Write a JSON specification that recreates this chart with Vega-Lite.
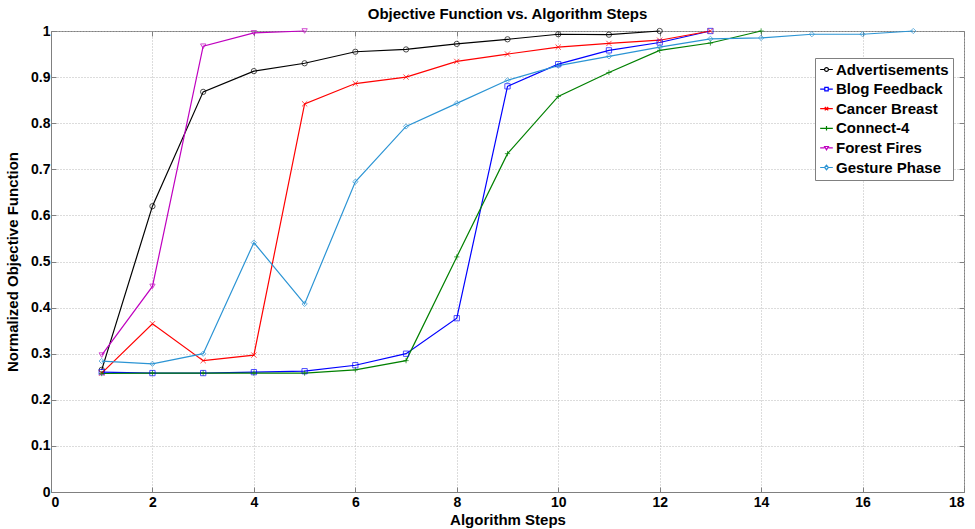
{
  "$schema": "https://vega.github.io/schema/vega-lite/v6.json",
  "width": 913,
  "height": 461,
  "autosize": {"type": "none"},
  "padding": {"left": 51, "top": 31, "right": 11, "bottom": 37},
  "background": "white",
  "title": {"text": "Objective Function vs. Algorithm Steps", "font": "Liberation Sans", "fontSize": 15, "fontWeight": "bold", "color": "black", "offset": 2},
  "config": {
    "view": {"stroke": "#808080", "strokeWidth": 1},
    "font": "Liberation Sans",
    "axis": {"labelFont": "Liberation Sans", "labelFontSize": 14, "labelFontWeight": "bold", "labelColor": "black", "titleFont": "Liberation Sans", "titleFontSize": 15, "titleFontWeight": "bold", "titleColor": "black", "domainColor": "#808080", "tickColor": "#808080", "gridColor": "#b8b8b8", "gridDash": [1, 2], "gridWidth": 1}
  },
  "data": {"values": [
    {"series": "Advertisements", "step": 1, "value": 0.265},
    {"series": "Advertisements", "step": 2, "value": 0.62},
    {"series": "Advertisements", "step": 3, "value": 0.868},
    {"series": "Advertisements", "step": 4, "value": 0.913},
    {"series": "Advertisements", "step": 5, "value": 0.93},
    {"series": "Advertisements", "step": 6, "value": 0.955},
    {"series": "Advertisements", "step": 7, "value": 0.96},
    {"series": "Advertisements", "step": 8, "value": 0.972},
    {"series": "Advertisements", "step": 9, "value": 0.982},
    {"series": "Advertisements", "step": 10, "value": 0.993},
    {"series": "Advertisements", "step": 11, "value": 0.992},
    {"series": "Advertisements", "step": 12, "value": 1.0},
    {"series": "Blog Feedback", "step": 1, "value": 0.26},
    {"series": "Blog Feedback", "step": 2, "value": 0.258},
    {"series": "Blog Feedback", "step": 3, "value": 0.258},
    {"series": "Blog Feedback", "step": 4, "value": 0.26},
    {"series": "Blog Feedback", "step": 5, "value": 0.262},
    {"series": "Blog Feedback", "step": 6, "value": 0.275},
    {"series": "Blog Feedback", "step": 7, "value": 0.3},
    {"series": "Blog Feedback", "step": 8, "value": 0.377},
    {"series": "Blog Feedback", "step": 9, "value": 0.88},
    {"series": "Blog Feedback", "step": 10, "value": 0.928},
    {"series": "Blog Feedback", "step": 11, "value": 0.958},
    {"series": "Blog Feedback", "step": 12, "value": 0.975},
    {"series": "Blog Feedback", "step": 13, "value": 1.0},
    {"series": "Cancer Breast", "step": 1, "value": 0.258},
    {"series": "Cancer Breast", "step": 2, "value": 0.365},
    {"series": "Cancer Breast", "step": 3, "value": 0.285},
    {"series": "Cancer Breast", "step": 4, "value": 0.297},
    {"series": "Cancer Breast", "step": 5, "value": 0.842},
    {"series": "Cancer Breast", "step": 6, "value": 0.886},
    {"series": "Cancer Breast", "step": 7, "value": 0.9},
    {"series": "Cancer Breast", "step": 8, "value": 0.934},
    {"series": "Cancer Breast", "step": 9, "value": 0.95},
    {"series": "Cancer Breast", "step": 10, "value": 0.965},
    {"series": "Cancer Breast", "step": 11, "value": 0.973},
    {"series": "Cancer Breast", "step": 12, "value": 0.98},
    {"series": "Cancer Breast", "step": 13, "value": 1.0},
    {"series": "Connect-4", "step": 1, "value": 0.257},
    {"series": "Connect-4", "step": 2, "value": 0.258},
    {"series": "Connect-4", "step": 3, "value": 0.258},
    {"series": "Connect-4", "step": 4, "value": 0.258},
    {"series": "Connect-4", "step": 5, "value": 0.258},
    {"series": "Connect-4", "step": 6, "value": 0.265},
    {"series": "Connect-4", "step": 7, "value": 0.285},
    {"series": "Connect-4", "step": 8, "value": 0.51},
    {"series": "Connect-4", "step": 9, "value": 0.734},
    {"series": "Connect-4", "step": 10, "value": 0.858},
    {"series": "Connect-4", "step": 11, "value": 0.91},
    {"series": "Connect-4", "step": 12, "value": 0.958},
    {"series": "Connect-4", "step": 13, "value": 0.974},
    {"series": "Connect-4", "step": 14, "value": 1.0},
    {"series": "Forest Fires", "step": 1, "value": 0.297},
    {"series": "Forest Fires", "step": 2, "value": 0.446},
    {"series": "Forest Fires", "step": 3, "value": 0.967},
    {"series": "Forest Fires", "step": 4, "value": 0.996},
    {"series": "Forest Fires", "step": 5, "value": 1.0},
    {"series": "Gesture Phase", "step": 1, "value": 0.284},
    {"series": "Gesture Phase", "step": 2, "value": 0.278},
    {"series": "Gesture Phase", "step": 3, "value": 0.3},
    {"series": "Gesture Phase", "step": 4, "value": 0.541},
    {"series": "Gesture Phase", "step": 5, "value": 0.408},
    {"series": "Gesture Phase", "step": 6, "value": 0.673},
    {"series": "Gesture Phase", "step": 7, "value": 0.793},
    {"series": "Gesture Phase", "step": 8, "value": 0.843},
    {"series": "Gesture Phase", "step": 9, "value": 0.893},
    {"series": "Gesture Phase", "step": 10, "value": 0.925},
    {"series": "Gesture Phase", "step": 11, "value": 0.945},
    {"series": "Gesture Phase", "step": 12, "value": 0.965},
    {"series": "Gesture Phase", "step": 13, "value": 0.983},
    {"series": "Gesture Phase", "step": 14, "value": 0.985},
    {"series": "Gesture Phase", "step": 15, "value": 0.993},
    {"series": "Gesture Phase", "step": 16, "value": 0.993},
    {"series": "Gesture Phase", "step": 17, "value": 1.0}
  ]},
  "resolve": {"axis": {"x": "independent", "y": "independent"}, "scale": {"color": "independent", "shape": "independent"}, "legend": {"color": "independent", "shape": "independent"}},
  "layer": [
    {
      "mark": {"type": "line", "strokeWidth": 1.2, "clip": false},
      "encoding": {
        "x": {"field": "step", "type": "quantitative", "scale": {"domain": [0, 18], "nice": false, "zero": false},
              "axis": {"title": "Algorithm Steps", "values": [0, 2, 4, 6, 8, 10, 12, 14, 16, 18], "tickSize": -5, "labelPadding": 8, "titlePadding": 3, "grid": true}},
        "y": {"field": "value", "type": "quantitative", "scale": {"domain": [0, 1], "nice": false},
              "axis": {"title": "Normalized Objective Function", "values": [0, 0.1, 0.2, 0.3, 0.4, 0.5, 0.6, 0.7, 0.8, 0.9, 1], "format": ".1~f", "tickSize": -5, "labelPadding": 6, "titlePadding": 10, "grid": true}},
        "color": {"field": "series", "type": "nominal",
                  "scale": {"domain": ["Advertisements", "Blog Feedback", "Cancer Breast", "Connect-4", "Forest Fires", "Gesture Phase"],
                            "range": ["#000000", "#0000ff", "#ff0000", "#008000", "#bf00bf", "#2b94d4"]},
                  "legend": {"orient": "none", "legendX": 764, "legendY": 27, "title": null, "strokeColor": "#808080", "fillColor": "white", "padding": 4, "labelFontSize": 15, "labelFontWeight": "bold", "labelFont": "Liberation Sans", "labelColor": "black", "rowPadding": 3.6, "symbolSize": 160, "symbolStrokeWidth": 1.2, "symbolFillColor": "transparent", "labelOffset": 2,
                             "encode": {"symbols": {"update": {"shape": {"signal": "['M-1,0L-0.3,0M0.3,0L1,0M-0.3,0A0.3,0.3 0 1,1 0.3,0A0.3,0.3 0 1,1 -0.3,0', 'M-1,0L-0.27,0M0.27,0L1,0M-0.27,-0.27L0.27,-0.27L0.27,0.27L-0.27,0.27Z', 'M-1,0L1,0M-0.27,-0.27L0.27,0.27M-0.27,0.27L0.27,-0.27', 'M-1,0L1,0M0,-0.35L0,0.35', 'M-1,0L-0.3,0M0.3,0L1,0M-0.3,-0.22L0.3,-0.22L0,0.3Z', 'M-1,0L-0.3,0M0.3,0L1,0M-0.3,0L0,-0.35L0.3,0L0,0.35Z'][indexof(['Advertisements', 'Blog Feedback', 'Cancer Breast', 'Connect-4', 'Forest Fires', 'Gesture Phase'], datum.value)]"}, "fill": {"value": "transparent"}}}}}},
        "detail": {"field": "series"}
      }
    },
    {
      "mark": {"type": "point", "filled": false, "size": 28, "strokeWidth": 1, "clip": false},
      "encoding": {
        "x": {"field": "step", "type": "quantitative", "axis": {"orient": "top", "values": [0, 2, 4, 6, 8, 10, 12, 14, 16, 18], "labels": false, "grid": false, "title": null, "tickSize": -5, "domain": false}},
        "y": {"field": "value", "type": "quantitative", "axis": {"orient": "right", "values": [0, 0.1, 0.2, 0.3, 0.4, 0.5, 0.6, 0.7, 0.8, 0.9, 1], "labels": false, "grid": false, "title": null, "tickSize": -5, "domain": false}},
        "color": {"field": "series", "type": "nominal", "legend": null,
                  "scale": {"domain": ["Advertisements", "Blog Feedback", "Cancer Breast", "Connect-4", "Forest Fires", "Gesture Phase"],
                            "range": ["#000000", "#0000ff", "#ff0000", "#008000", "#bf00bf", "#2b94d4"]}},
        "shape": {"field": "series", "type": "nominal", "legend": null,
                  "scale": {"domain": ["Advertisements", "Blog Feedback", "Cancer Breast", "Connect-4", "Forest Fires", "Gesture Phase"],
                            "range": ["circle", "square", "M-1,-1L1,1M-1,1L1,-1", "M-1,0L1,0M0,-1L0,1", "triangle-down", "diamond"]}}
      }
    }
  ]
}
